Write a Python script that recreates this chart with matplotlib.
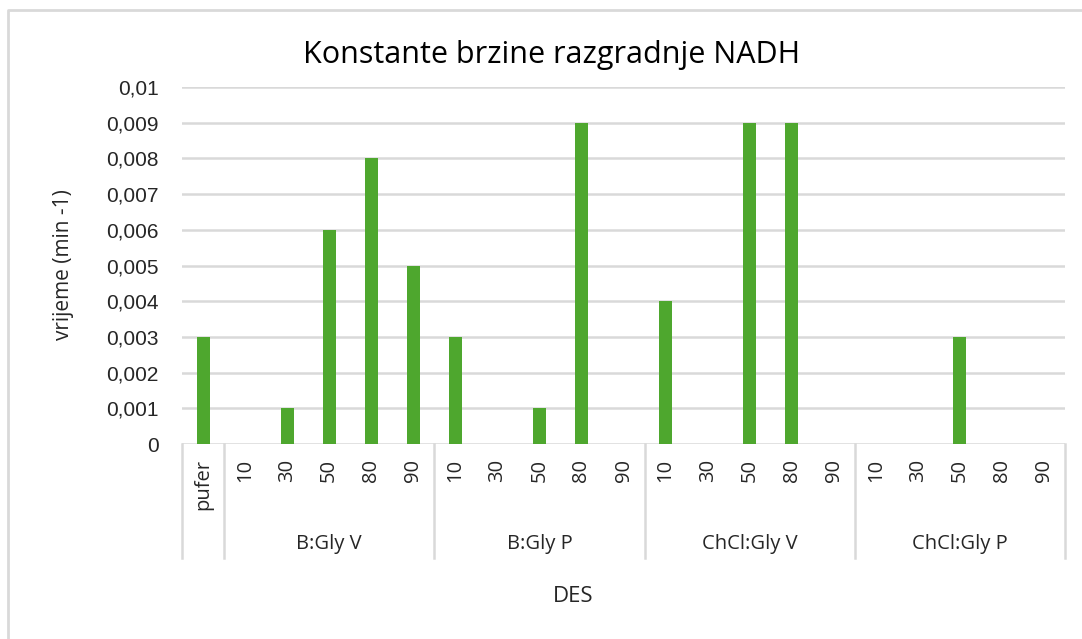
import matplotlib
matplotlib.use("Agg")
import matplotlib.pyplot as plt
from matplotlib.lines import Line2D
from matplotlib.transforms import blended_transform_factory

# ---- data ----
groups = ["", "B:Gly V", "B:Gly P", "ChCl:Gly V", "ChCl:Gly P"]
group_cats = [["pufer"],
              ["10", "30", "50", "80", "90"],
              ["10", "30", "50", "80", "90"],
              ["10", "30", "50", "80", "90"],
              ["10", "30", "50", "80", "90"]]
group_values = [[0.003],
                [0, 0.001, 0.006, 0.008, 0.005],
                [0.003, 0, 0.001, 0.009, 0],
                [0.004, 0, 0.009, 0.009, 0],
                [0, 0, 0.003, 0, 0]]
y_ticks = [0, 0.001, 0.002, 0.003, 0.004, 0.005, 0.006, 0.007, 0.008, 0.009, 0.01]
y_tick_labels = ["0", "0,001", "0,002", "0,003", "0,004", "0,005", "0,006",
                 "0,007", "0,008", "0,009", "0,01"]
title = "Konstante brzine razgradnje NADH"
y_label = "vrijeme (min -1)"
x_label = "DES"

W, H = 1082, 639
fig = plt.figure(figsize=(W / 100, H / 100), dpi=100)
fig.patch.set_facecolor("white")

GRID = "#d9d9d9"
BAR = "#4ea72e"
TXT = "#262626"
FONT = ["Open Sans", "DejaVu Sans"]
NUMFONT = ["Liberation Sans", "DejaVu Sans"]

# outer chart border (partially visible)
fig.add_artist(Line2D([8 / W, 8 / W, 1], [0, 1 - 10 / H, 1 - 10 / H],
                      transform=fig.transFigure, color=GRID, lw=2))

left_px, right_px, top_px, bot_px = 182, 1065, 87, 444
ax = fig.add_axes([left_px / W, 1 - bot_px / H, (right_px - left_px) / W, (bot_px - top_px) / H])

labels, values, starts = [], [], []
for cats, vals in zip(group_cats, group_values):
    starts.append(len(labels))
    labels += cats
    values += vals
n = len(labels)
xs = list(range(n))

ax.bar(xs, values, width=0.31, color=BAR, zorder=3)
ax.set_xlim(-0.5, n - 0.5)
ax.set_ylim(0, 0.01)
ax.set_yticks(y_ticks)
ax.set_yticklabels(y_tick_labels, family=NUMFONT, fontsize=15, color=TXT)
ax.tick_params(axis="y", length=0, pad=17)
ax.set_xticks([])
for s in ax.spines.values():
    s.set_visible(False)
for yv in y_ticks:
    ax.axhline(yv, color=GRID, lw=1.8, zorder=1)

trans = blended_transform_factory(ax.transData, fig.transFigure)
div_bottom = 558
# category labels
for x, lab in zip(xs, labels):
    ax.text(x, 1 - 459 / H, lab, transform=trans, rotation=90, ha="center", va="top",
            fontsize=14.5, color=TXT, family=FONT)
# group dividers and labels
bounds = starts + [n]
for b in bounds:
    ax.add_artist(Line2D([b - 0.5, b - 0.5], [1 - bot_px / H, 1 - div_bottom / H],
                         transform=trans, color=GRID, lw=1.8, clip_on=False))
for gi, g in enumerate(groups):
    if g:
        c = (bounds[gi] + bounds[gi + 1] - 1) / 2
        ax.text(c, 1 - 544 / H, g, transform=trans, ha="center", va="center",
                fontsize=14.5, color=TXT, family=FONT)

fig.text(552 / W, 1 - 55 / H, title, ha="center", va="center", fontsize=22,
         color="#000000", family=FONT)
fig.text(64 / W, 1 - 265 / H, y_label, rotation=90, ha="center", va="center",
         fontsize=15, color=TXT, family=FONT)
fig.text(573 / W, 1 - 597 / H, x_label, ha="center", va="center", fontsize=16,
         color=TXT, family=FONT)

fig.savefig("out.png", dpi=100, facecolor="white")
